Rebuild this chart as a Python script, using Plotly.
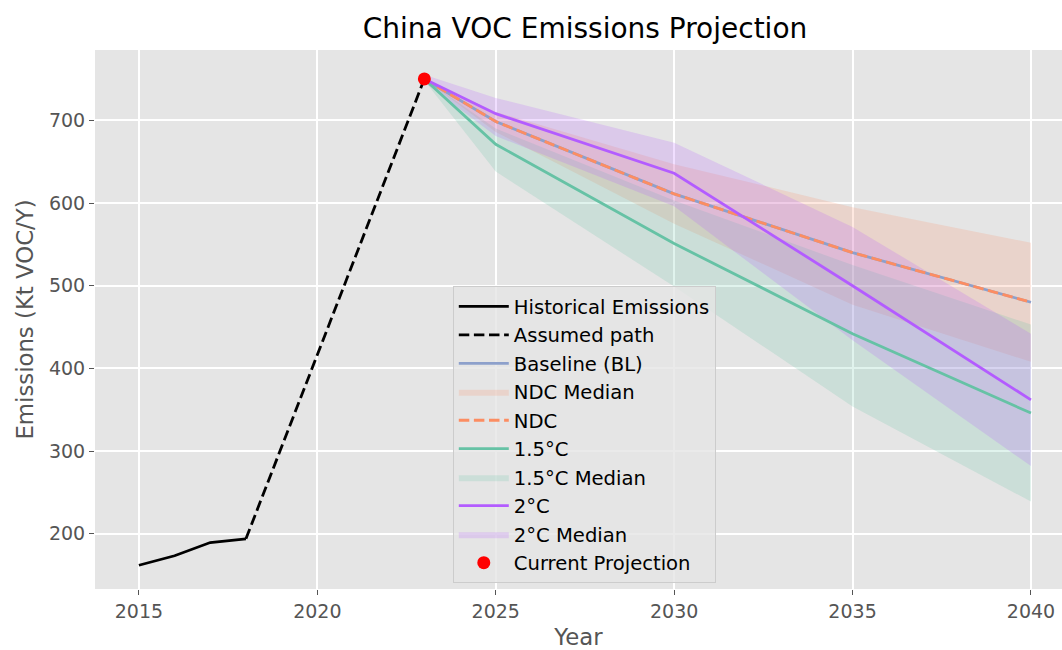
import plotly.graph_objects as go

# Historical record and the assumed bridge to the current projection
hist_years = [2015, 2016, 2017, 2018]
hist_values = [162, 173.5, 189.5, 194]
bridge_years = [2018, 2023]
bridge_values = [194, 750]

# Scenario projections
proj_years = [2023, 2025, 2030, 2035, 2040]
baseline = [750, 698.5, 611, 540, 480]
ndc = [750, 698.5, 611, 540, 480]
ndc_upper = [750, 710, 647, 595, 552]
ndc_lower = [750, 686, 575, 477, 408]
c15 = [750, 671, 551, 442, 346]
c15_upper = [750, 690, 603, 525, 453]
c15_lower = [748, 638, 499, 354, 239]
c20 = [750, 708, 636, 500, 362]
c20_upper = [755, 727, 673, 571, 442]
c20_lower = [746, 681, 596, 434, 282]

current_year = [2023]
current_value = [750]

x_ticks = [2015, 2020, 2025, 2030, 2035, 2040]
y_ticks = [200, 300, 400, 500, 600, 700]

ORANGE = "#fc8d62"
GREEN = "#66c2a5"
BLUE = "#8da0cb"
PURPLE = "#b35cff"
FONT = "DejaVu Sans"
LW = 2.8
DASH = "10.5px,4.6px"


def band(upper, lower, color, name, rank):
    return go.Scatter(
        x=proj_years + proj_years[::-1],
        y=upper + lower[::-1],
        fill="toself",
        fillcolor=color,
        line=dict(width=0),
        mode="lines",
        name=name,
        legendrank=rank,
        hoverinfo="skip",
    )


fig = go.Figure()

# shaded ranges sit underneath all lines
fig.add_trace(band(ndc_upper, ndc_lower, "rgba(252,141,98,0.2)", "NDC Median", 4))
fig.add_trace(band(c15_upper, c15_lower, "rgba(102,194,165,0.2)", "1.5°C Median", 7))
fig.add_trace(band(c20_upper, c20_lower, "rgba(179,92,255,0.2)", "2°C Median", 9))

fig.add_trace(go.Scatter(x=hist_years, y=hist_values, mode="lines",
                         line=dict(color="black", width=LW),
                         name="Historical Emissions", legendrank=1))
fig.add_trace(go.Scatter(x=bridge_years, y=bridge_values, mode="lines",
                         line=dict(color="black", width=LW, dash=DASH),
                         name="Assumed path", legendrank=2))
fig.add_trace(go.Scatter(x=proj_years, y=baseline, mode="lines",
                         line=dict(color=BLUE, width=LW),
                         name="Baseline (BL)", legendrank=3))
fig.add_trace(go.Scatter(x=proj_years, y=ndc, mode="lines",
                         line=dict(color=ORANGE, width=LW, dash=DASH),
                         name="NDC", legendrank=5))
fig.add_trace(go.Scatter(x=proj_years, y=c15, mode="lines",
                         line=dict(color=GREEN, width=LW),
                         name="1.5°C", legendrank=6))
fig.add_trace(go.Scatter(x=proj_years, y=c20, mode="lines",
                         line=dict(color=PURPLE, width=LW),
                         name="2°C", legendrank=8))
fig.add_trace(go.Scatter(x=current_year, y=current_value, mode="markers",
                         marker=dict(color="red", size=13),
                         name="Current Projection", legendrank=10))

axis_common = dict(
    showgrid=True, gridcolor="white", gridwidth=1.5,
    zeroline=False, showline=False, automargin=False,
    ticks="outside", ticklen=5, tickwidth=1.2, tickcolor="#555555",
    tickfont=dict(family=FONT, size=19, color="#555555"),
)

fig.update_xaxes(
    range=[2013.77, 2040.87], tickvals=x_ticks,
    title=dict(text="Year", font=dict(family=FONT, size=22.8, color="#555555"), standoff=16),
    **axis_common,
)
fig.update_yaxes(
    range=[133.3, 785], tickvals=y_ticks,
    title=dict(text="Emissions (Kt VOC/Y)", font=dict(family=FONT, size=22.8, color="#555555"), standoff=8),
    **axis_common,
)

fig.update_layout(
    width=1062, height=650,
    margin=dict(l=95, r=0, t=50, b=61),
    paper_bgcolor="white",
    plot_bgcolor="#E5E5E5",
    font=dict(family=FONT),
    title=dict(text="China VOC Emissions Projection", x=585 / 1062, xref="container",
               y=1 - 28 / 650, yref="container", yanchor="middle", xanchor="center",
               font=dict(family=FONT, size=28, color="black")),
    legend=dict(
        x=0.370, y=0.562, xanchor="left", yanchor="top",
        bgcolor="rgba(229,229,229,0.8)", bordercolor="#cccccc", borderwidth=1,
        font=dict(family=FONT, size=19.6, color="black"),
        itemwidth=50,
        traceorder="normal",
    ),
    showlegend=True,
)

fig.write_html("out.html")
